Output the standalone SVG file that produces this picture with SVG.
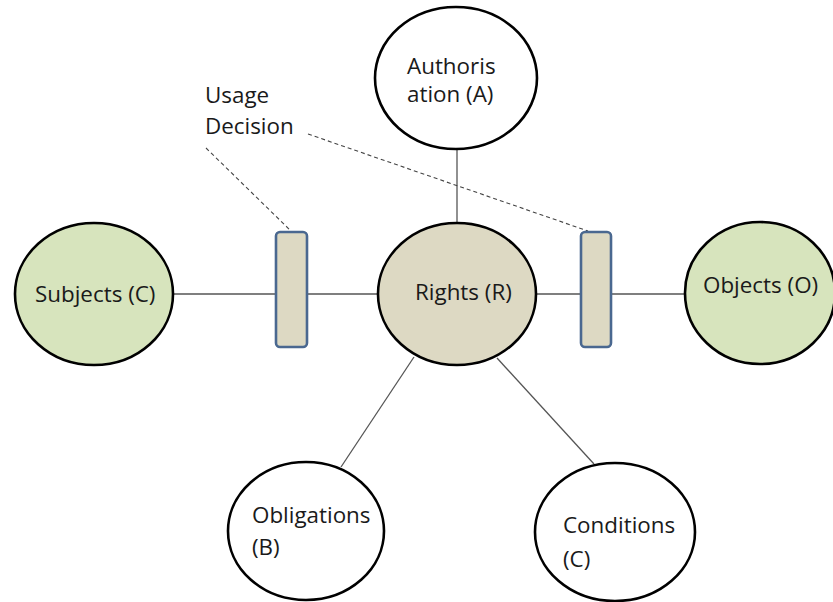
<svg xmlns="http://www.w3.org/2000/svg" width="833" height="602" viewBox="0 0 833 602">
  <style>
    .lbl { font-family: "Open Sans", "Liberation Sans", sans-serif; font-size: 22.4px; fill: #1a1a1a; }
    .node { stroke: #000; stroke-width: 2.6; }
    .white { fill: #ffffff; }
    .green { fill: #d7e4bd; }
    .tan { fill: #ddd9c3; }
    .gate { fill: #ddd9c3; stroke: #4a6890; stroke-width: 2.6; }
    .link { stroke: #555; stroke-width: 1.3; fill: none; }
    .dash { stroke: #444; stroke-width: 1.1; stroke-dasharray: 4 3; fill: none; }
  </style>
  <rect width="833" height="602" fill="#ffffff"/>

  <g id="connectors">
    <line class="link" x1="173" y1="294" x2="276" y2="294"/>
    <line class="link" x1="307" y1="294" x2="378" y2="294"/>
    <line class="link" x1="537" y1="294" x2="581" y2="294"/>
    <line class="link" x1="611" y1="294" x2="685" y2="294"/>
    <line class="link" x1="457" y1="149" x2="457" y2="223" stroke="#222"/>
    <line class="link" x1="414" y1="357" x2="341" y2="467"/>
    <line class="link" x1="497" y1="358" x2="594" y2="464"/>
    <line class="dash" x1="206" y1="148" x2="291" y2="231"/>
    <line class="dash" x1="308" y1="134" x2="588" y2="231"/>
  </g>

  <g id="subjects">
    <ellipse class="node green" cx="94" cy="294" rx="79" ry="71"/>
    <text class="lbl" x="35" y="302">Subjects (C)</text>
  </g>

  <g id="gate-left">
    <rect class="gate" x="276" y="232" width="31" height="115" rx="4"/>
  </g>

  <g id="rights">
    <ellipse class="node tan" cx="457" cy="294" rx="79" ry="71"/>
    <text class="lbl" x="415" y="300">Rights (R)</text>
  </g>

  <g id="gate-right">
    <rect class="gate" x="581" y="232" width="30" height="115" rx="4"/>
  </g>

  <g id="objects">
    <ellipse class="node green" cx="760" cy="293" rx="75" ry="71"/>
    <text class="lbl" x="703" y="293">Objects (O)</text>
  </g>

  <g id="authorisation">
    <ellipse class="node white" cx="456" cy="78" rx="81" ry="71"/>
    <text class="lbl" x="407" y="74">Authoris</text>
    <text class="lbl" x="407" y="102">ation (A)</text>
  </g>

  <g id="usage-decision">
    <text class="lbl" x="205" y="103">Usage</text>
    <text class="lbl" x="205" y="134">Decision</text>
  </g>

  <g id="obligations">
    <ellipse class="node white" cx="306" cy="531" rx="78" ry="69"/>
    <text class="lbl" x="252" y="523">Obligations</text>
    <text class="lbl" x="252" y="555">(B)</text>
  </g>

  <g id="conditions">
    <ellipse class="node white" cx="615" cy="532" rx="80" ry="69"/>
    <text class="lbl" x="563" y="533">Conditions</text>
    <text class="lbl" x="563" y="567">(C)</text>
  </g>
</svg>
